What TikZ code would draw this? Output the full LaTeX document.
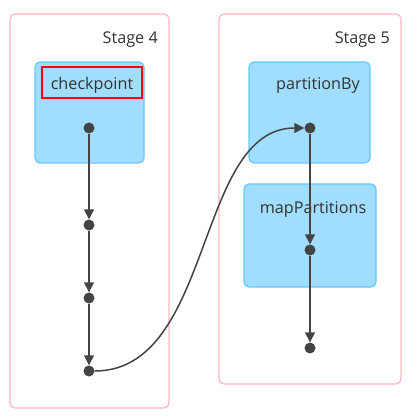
\documentclass[tikz,border=0pt]{standalone}
\usepackage{fontspec}
\setmainfont{Open Sans}
\usetikzlibrary{arrows.meta}
\definecolor{stagepink}{RGB}{255,182,193}
\definecolor{opfill}{RGB}{160,221,255}
\definecolor{opdraw}{RGB}{102,200,255}
\definecolor{dotgray}{RGB}{68,68,68}
\definecolor{txt}{RGB}{51,51,51}
\tikzset{
  stagebox/.style={draw=stagepink,line width=1.2pt,rounded corners=5pt,fill=white},
  opbox/.style={draw=opdraw,line width=1.2pt,rounded corners=5pt,fill=opfill},
  lbl/.style={font=\fontsize{16.2}{18}\selectfont,text=txt,inner sep=0pt},
  dot/.style={circle,fill=dotgray,inner sep=0pt,minimum size=11pt},
  edge/.style={draw=dotgray,line width=1.5pt,-{Triangle[width=10pt,length=10pt]}},
}
\begin{document}
\begin{tikzpicture}[x=1pt,y=-1pt]
\useasboundingbox (0,0) rectangle (410,417);
% stages
\draw[stagebox] (10,14) rectangle (169,408);
\draw[stagebox] (219,14) rectangle (401,384);
\node[lbl,anchor=east] (s4) at (158,39.5) {Stage 4};
\node[lbl,anchor=east] (s5) at (390,39.5) {Stage 5};
% operation boxes
\draw[opbox] (35,62) rectangle (144,163);
\draw[opbox] (249,62) rectangle (370,163);
\draw[opbox] (244,184) rectangle (376,287);
\node[lbl] (cp) at (92,85.5) {checkpoint};
\draw[red,line width=2pt] (42,67) rectangle (142,98);
\node[lbl] (pb) at (318,85.5) {partitionBy};
\node[lbl] (mp) at (313,209.5) {mapPartitions};
% dots
\node[dot] (a1) at (89,128) {};
\node[dot] (a2) at (89,225) {};
\node[dot] (a3) at (89,298) {};
\node[dot] (a4) at (89,371) {};
\node[dot] (b1) at (310,128) {};
\node[dot] (b2) at (310,250) {};
\node[dot] (b3) at (310,348) {};
% edges
\draw[edge] (a1) -- (a2);
\draw[edge] (a2) -- (a3);
\draw[edge] (a3) -- (a4);
\draw[edge] (b1) -- (b2);
\draw[edge] (b2) -- (b3);
\draw[edge] (a4) .. controls +(125,0) and +(-115,0) .. (b1);
\end{tikzpicture}
\end{document}
